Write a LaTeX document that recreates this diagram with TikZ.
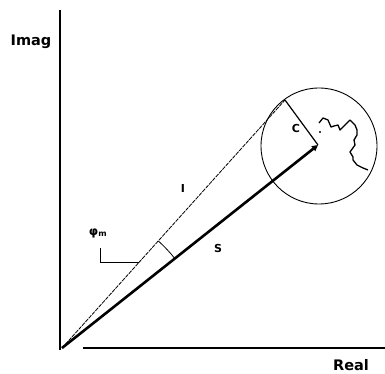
\documentclass[tikz,border=0pt]{standalone}
\usepackage{fontspec}
\setmainfont{DejaVu Sans}
\usetikzlibrary{arrows.meta}
\begin{document}
\begin{tikzpicture}[x=1pt,y=-1pt,
  axis/.style={line width=1.6pt},
  thinray/.style={line width=0.8pt, dash pattern=on 4pt off 1pt},
  thickray/.style={line width=2.6pt},
  lbl/.style={font=\bfseries\fontsize{14.5}{14.5}\selectfont, inner sep=0pt},
  slbl/.style={font=\bfseries\fontsize{11}{11}\selectfont, inner sep=0pt}]
\useasboundingbox (0,0) rectangle (385,374);
% axes
\coordinate (ytop) at (60,10);
\coordinate (ybot) at (60,350);
\coordinate (xl) at (83,348);
\coordinate (xr) at (385,348);
\draw[axis] (ytop) -- (ybot);
\draw[axis] (xl) -- (xr);
\node[lbl] (imag) at (31,42) {Imag};
\node[lbl] (real) at (351,365) {Real};
% geometry
\coordinate (O) at (62,348);
\coordinate (C) at (318,145);
\coordinate (T) at (285,100);
\draw[line width=0.9pt] (319,146) circle (58);
\draw[thinray] (O) -- (T);
\draw[thickray, -{Triangle[length=6pt,width=6pt]}] (O) -- (C);
\draw[line width=1.2pt] (T) -- (C);
% angle arc
\draw[line width=0.8pt] ([shift={(-38.6:144)}]O) arc[start angle=-38.6, end angle=-48, radius=144];
% leader
\node[font=\bfseries\fontsize{12}{12}\selectfont, inner sep=0pt] (phi) at (98,233) {φ\textsubscript{m}};
\coordinate (lk) at (100,262);
\coordinate (le) at (139,262);
\draw[line width=0.9pt] (100,248) -- (lk) -- (le);
% labels
\node[slbl] (I) at (183,188) {I};
\node[slbl] (S) at (218,248) {S};
\node[slbl] (Cl) at (296,128) {C};
% wiggly curve
\fill (320,132) circle (1.2);
\draw[line width=1.3pt, line join=round]
 (319,123) -- (323,118) -- (328,120) -- (331,127) -- (334,126) -- (338,125) -- (340,130)
 -- (344,126) -- (347,123) -- (350,120) -- (355,125) -- (357,130) -- (357,135)
 -- (354,140) -- (355,145) -- (350,152) -- (353,157) -- (353,160) -- (357,165)
 -- (363,168) -- (368,170);
\end{tikzpicture}
\end{document}
